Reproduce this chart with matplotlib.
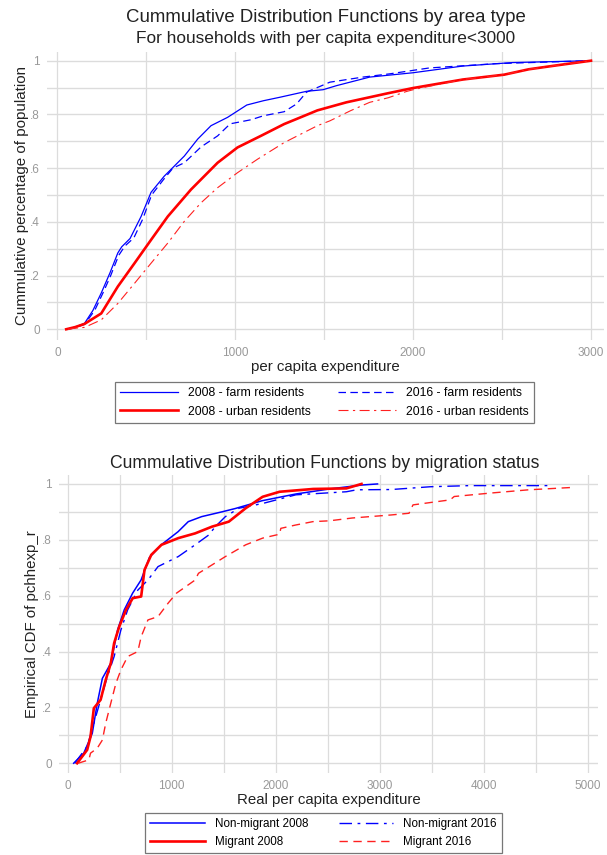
import numpy as np
import matplotlib
matplotlib.use('Agg')
import matplotlib.pyplot as plt

plt.rcParams['font.family'] = ['Liberation Sans', 'DejaVu Sans']

# ---- dados (top: por tipo de area) ----
farm08_x = [50, 100, 153, 200, 247, 296, 340, 362, 409, 471, 527, 601, 714, 789, 864, 957, 1065, 1159, 1252, 1401, 1494, 1569, 1756, 1998, 2278, 2558, 3000]
farm08_y = [0, 0.008, 0.022, 0.07, 0.135, 0.21, 0.284, 0.307, 0.338, 0.42, 0.51, 0.57, 0.645, 0.708, 0.758, 0.789, 0.835, 0.851, 0.864, 0.886, 0.892, 0.907, 0.939, 0.955, 0.98, 0.993, 1.0]

farm16_x = [60, 100, 153, 210, 260, 300, 345, 380, 430, 480, 530, 600, 650, 714, 808, 901, 972, 1088, 1159, 1275, 1345, 1401, 1532, 1718, 1868, 2091, 2465, 3000]
farm16_y = [0, 0.006, 0.018, 0.07, 0.14, 0.2, 0.275, 0.31, 0.34, 0.41, 0.5, 0.56, 0.6, 0.62, 0.679, 0.72, 0.765, 0.78, 0.795, 0.81, 0.839, 0.883, 0.92, 0.939, 0.951, 0.973, 0.989, 1.0]

urban08_x = [50, 100, 153, 247, 340, 434, 527, 621, 751, 901, 1013, 1144, 1275, 1345, 1462, 1625, 1860, 1998, 2280, 2512, 2650, 2800, 3000]
urban08_y = [0, 0.008, 0.02, 0.059, 0.159, 0.246, 0.333, 0.42, 0.52, 0.62, 0.677, 0.72, 0.764, 0.783, 0.815, 0.845, 0.879, 0.898, 0.93, 0.948, 0.968, 0.982, 1.0]

urban16_x = [60, 100, 153, 247, 340, 434, 527, 621, 714, 808, 901, 1013, 1125, 1275, 1462, 1532, 1649, 1756, 1860, 1961, 2012, 2280, 2512, 2650, 2800, 3000]
urban16_y = [0, 0.004, 0.007, 0.035, 0.096, 0.171, 0.246, 0.321, 0.402, 0.471, 0.527, 0.583, 0.633, 0.695, 0.758, 0.776, 0.814, 0.845, 0.862, 0.885, 0.894, 0.93, 0.948, 0.968, 0.982, 1.0]

# ---- dados (bottom: por status de migracao) ----
nonmig08_x = [58, 155, 237, 285, 334, 415, 480, 544, 625, 706, 787, 900, 1062, 1160, 1289, 1483, 1612, 1871, 2194, 2518, 2826, 2980]
nonmig08_y = [0, 0.036, 0.107, 0.215, 0.304, 0.358, 0.477, 0.549, 0.609, 0.656, 0.737, 0.782, 0.829, 0.865, 0.883, 0.9, 0.912, 0.94, 0.964, 0.982, 0.996, 1.0]

mig08_x = [91, 140, 188, 220, 252, 317, 366, 415, 447, 496, 561, 626, 707, 739, 804, 902, 1064, 1226, 1388, 1550, 1712, 1875, 2038, 2361, 2680, 2826]
mig08_y = [0, 0.024, 0.048, 0.095, 0.197, 0.227, 0.298, 0.358, 0.43, 0.489, 0.549, 0.591, 0.597, 0.692, 0.746, 0.782, 0.806, 0.823, 0.847, 0.865, 0.913, 0.954, 0.972, 0.982, 0.984, 1.0]

nonmig16_x = [68, 188, 252, 317, 382, 447, 512, 577, 675, 772, 869, 1064, 1226, 1356, 1420, 1517, 1647, 1875, 2194, 2680, 2780, 3113, 3490, 3868, 4660]
nonmig16_y = [0, 0.06, 0.143, 0.227, 0.31, 0.382, 0.477, 0.549, 0.62, 0.656, 0.704, 0.74, 0.782, 0.817, 0.847, 0.883, 0.913, 0.93, 0.961, 0.972, 0.979, 0.98, 0.99, 0.994, 0.994]

mig16_x = [101, 204, 220, 285, 334, 366, 415, 464, 512, 577, 675, 707, 772, 869, 966, 1047, 1226, 1258, 1388, 1517, 1712, 1875, 2038, 2050, 2194, 2358, 2518, 2736, 3113, 3283, 3321, 3679, 3717, 4057, 4434, 4830]
mig16_y = [0, 0.012, 0.036, 0.054, 0.083, 0.143, 0.215, 0.286, 0.334, 0.382, 0.4, 0.453, 0.513, 0.525, 0.573, 0.609, 0.656, 0.68, 0.71, 0.74, 0.782, 0.806, 0.82, 0.841, 0.853, 0.865, 0.868, 0.878, 0.889, 0.895, 0.925, 0.943, 0.955, 0.967, 0.979, 0.987]

ytick_vals = [0, 0.2, 0.4, 0.6, 0.8, 1]
ytick_lbls = ['0', '.2', '.4', '.6', '.8', '1']

W, H = 607, 855
fig = plt.figure(figsize=(W / 100, H / 100), dpi=100)

GRID = '#dcdcdc'
TICK = '#999999'


def px_rect(l, t, r, b):
	# converte caixa em pixels para coordenadas da figura
	return [l / W, 1 - b / H, (r - l) / W, (b - t) / H]


def style_axes(ax, xmax, xstep):
	for s in ax.spines.values():
		s.set_visible(False)
	for v in np.arange(0, xmax + 1, xstep):
		ax.axvline(v, color=GRID, lw=0.9, zorder=0)
	for v in np.arange(0, 1.01, 0.1):
		ax.axhline(v, color=GRID, lw=1.0, zorder=0)
	ax.set_yticks(ytick_vals)
	ax.set_yticklabels(ytick_lbls)
	ax.tick_params(length=0, colors=TICK, labelsize=8.5, pad=5)
	ax.set_facecolor('white')


# ---------------- grafico de cima ----------------
ax1 = fig.add_axes(px_rect(47, 51.7, 604, 340))
style_axes(ax1, 3000, 500)
ax1.set_xlim(-58, 3073)
ax1.set_ylim(-0.04, 1.0335)
ax1.set_xticks([0, 1000, 2000, 3000])

ax1.plot(farm08_x, farm08_y, color='#0000ff', lw=0.9, label='2008 - farm residents')
ax1.plot(farm16_x, farm16_y, color='#0000ff', lw=0.9, ls=(0, (6, 3.5)), label='2016 - farm residents')
ax1.plot(urban08_x, urban08_y, color='#ff0000', lw=1.9, label='2008 - urban residents')
ax1.plot(urban16_x, urban16_y, color='#ff2020', lw=0.8, ls=(0, (9, 4, 2, 4)), label='2016 - urban residents')

ax1.set_xlabel('per capita expenditure', fontsize=10.8, color='#222222', labelpad=0.8)
ax1.set_ylabel('Cummulative percentage of population', fontsize=10.9, color='#222222')
ax1.yaxis.set_label_coords((29.5 - 47) / 557, 0.5)

fig.text(325.5 / W, 1 - 17 / H, 'Cummulative Distribution Functions by area type', ha='center', va='center', fontsize=13.4, color='#222222')
fig.text(325.5 / W, 1 - 39 / H, 'For households with per capita expenditure<3000', ha='center', va='center', fontsize=12.4, color='#222222')

h, l = ax1.get_legend_handles_labels()
order = [0, 2, 1, 3]
leg1 = fig.legend([h[i] for i in order], [l[i] for i in order], ncol=2, loc='center',
				  bbox_to_anchor=(324.4 / W, 1 - 402.4 / H), fontsize=8.8, frameon=True, fancybox=False,
				  edgecolor='#555555', handlelength=4.75, handletextpad=0.8, columnspacing=2.2,
				  labelspacing=0.55, borderpad=0.45)
leg1.get_frame().set_linewidth(0.9)

# ---------------- grafico de baixo ----------------
ax2 = fig.add_axes(px_rect(58.8, 475, 598, 773))
style_axes(ax2, 5000, 500)
ax2.set_xlim(-85, 5100)
ax2.set_ylim(-0.035, 1.032)
ax2.set_xticks([0, 1000, 2000, 3000, 4000, 5000])

ax2.plot(nonmig08_x, nonmig08_y, color='#0000ff', lw=1.1, label='Non-migrant 2008')
ax2.plot(nonmig16_x, nonmig16_y, color='#0000ff', lw=1.0, ls=(0, (9, 4, 2, 4)), label='Non-migrant 2016')
ax2.plot(mig08_x, mig08_y, color='#ff0000', lw=1.9, label='Migrant 2008')
ax2.plot(mig16_x, mig16_y, color='#ff2020', lw=1.0, ls=(0, (6, 4)), label='Migrant 2016')

ax2.set_xlabel('Real per capita expenditure', fontsize=10.8, color='#222222', labelpad=0.5)
ax2.set_ylabel('Empirical CDF of pchhexp_r', fontsize=10.8, color='#222222')
ax2.yaxis.set_label_coords((39.5 - 58.8) / 539.2, 0.5)

fig.text(325 / W, 1 - 464 / H, 'Cummulative Distribution Functions by migration status', ha='center', va='center', fontsize=12.7, color='#222222')

h, l = ax2.get_legend_handles_labels()
leg2 = fig.legend([h[i] for i in order], [l[i] for i in order], ncol=2, loc='center',
				  bbox_to_anchor=(323.5 / W, 1 - 833 / H), fontsize=8.4, frameon=True, fancybox=False,
				  edgecolor='#555555', handlelength=4.7, handletextpad=0.85, columnspacing=2.6,
				  labelspacing=0.5, borderpad=0.4)
leg2.get_frame().set_linewidth(0.9)

plt.savefig('out.png', dpi=100)
plt.close()
